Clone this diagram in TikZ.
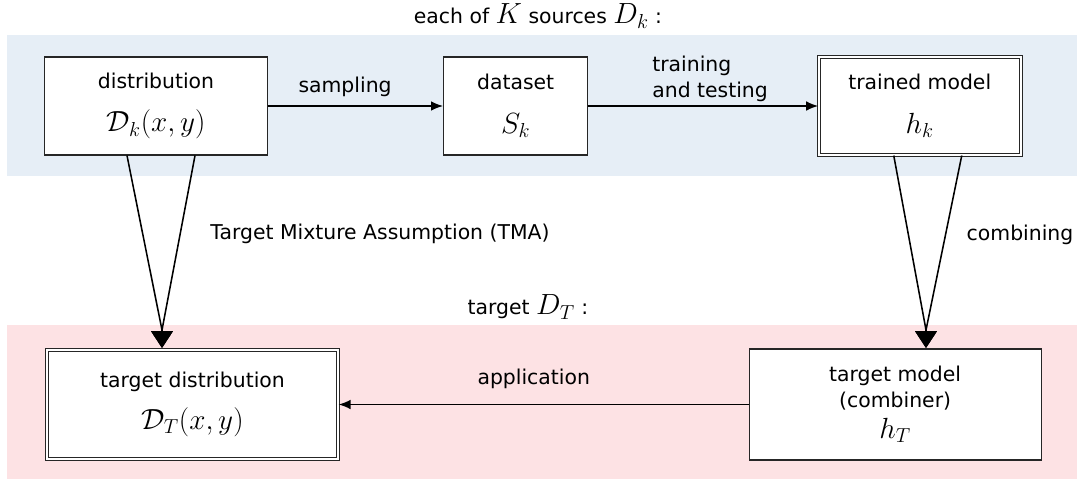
\documentclass[tikz,border=0pt]{standalone}
\usepackage{fontspec}
\setmainfont{DejaVu Sans}
\usetikzlibrary{arrows.meta,calc,positioning}
\definecolor{SrcBand}{HTML}{E6EEF6}
\definecolor{TgtBand}{HTML}{FDE2E4}
\newcommand{\mbig}[1]{{\fontsize{20}{24}\selectfont$#1$}}
\tikzset{
  flBox/.style={
    rectangle, draw=black!85, fill=white, line width=0.8pt,
    align=center, font=\fontsize{14.5}{18}\selectfont, inner sep=2pt
  },
  flDouble/.style={flBox, double=white, double distance=1.4pt},
  flArrow/.style={-{Latex[length=3mm,width=2.4mm]}, line width=1.05pt},
  flMerge/.style={-{Triangle[length=4.2mm,width=5.4mm]}, line width=1.1pt},
  flLabel/.style={font=\fontsize{14.5}{18}\selectfont, align=left, inner sep=0pt}
}
\begin{document}
\begin{tikzpicture}
  \useasboundingbox (0,0) rectangle (26.925,-11.975);
  % the two bands
  \fill[SrcBand] (0.175,-0.875) rectangle (26.925,-4.4);
  \fill[TgtBand] (0.175,-8.125) rectangle (26.925,-11.975);

  \node[flLabel] (srcTitle) at (13.45,-0.4) {each of \mbig{K} sources \mbig{D_k} :};
  \node[flLabel] (tgtTitle) at (13.2,-7.675) {target \mbig{D_T} :};

  \node[flBox, minimum width=5.575cm, minimum height=2.45cm] (dist) at (3.9,-2.65)
    {distribution\\[13pt]\mbig{\mathcal{D}_k(x,y)}};
  \node[flBox, minimum width=3.6cm, minimum height=2.45cm, right=4.375cm of dist] (data)
    {dataset\\[13pt]\mbig{S_k}};
  \node[flDouble, minimum width=5.05cm, minimum height=2.45cm, right=5.75cm of data] (model)
    {trained model\\[13pt]\mbig{h_k}};

  \node[flDouble, minimum width=7.275cm, minimum height=2.725cm] (tdist) at (4.8125,-10.1125)
    {target distribution\\[10pt]\mbig{\mathcal{D}_T(x,y)}};
  \node[flBox, minimum width=7.3cm, minimum height=2.775cm, right=10.25cm of tdist] (tmodel)
    {target model\\(combiner)\\[4pt]\mbig{h_T}};

  \node[flLabel] (tmaLbl) at (9.5,-5.85) {Target Mixture Assumption (TMA)};
  \node[flLabel] (combLbl) at (25.5,-5.875) {combining};

  \coordinate (tmaJoin) at (4.05,-8.25);
  \coordinate (tmaTip) at (4.05,-8.7);
  \coordinate (combJoin) at (23.15,-8.25);
  \coordinate (combTip) at (23.15,-8.7);

  \draw[flArrow] (dist.east) -- node[flLabel, above=0.22cm, pos=0.44] (sampLbl) {sampling} (data.west);
  \draw[flArrow] (data.east) -- node[flLabel, above=0.1cm, pos=0.53] (trainLbl) {training\\and testing} (model.west);
  \draw[flArrow] (tmodel.west) -- node[flLabel, above=0.37cm, pos=0.524] (applLbl) {application} (tdist.east);

  \draw[flMerge] ($(dist.south)+(-0.725,0)$) -- (tmaJoin) -- (tmaTip);
  \draw[flMerge] ($(dist.south)+(0.975,0)$) -- (tmaJoin) -- (tmaTip);
  \draw[flMerge] ($(model.south)+(-0.65,0)$) -- (combJoin) -- (combTip);
  \draw[flMerge] ($(model.south)+(1.05,0)$) -- (combJoin) -- (combTip);
\end{tikzpicture}
\end{document}
